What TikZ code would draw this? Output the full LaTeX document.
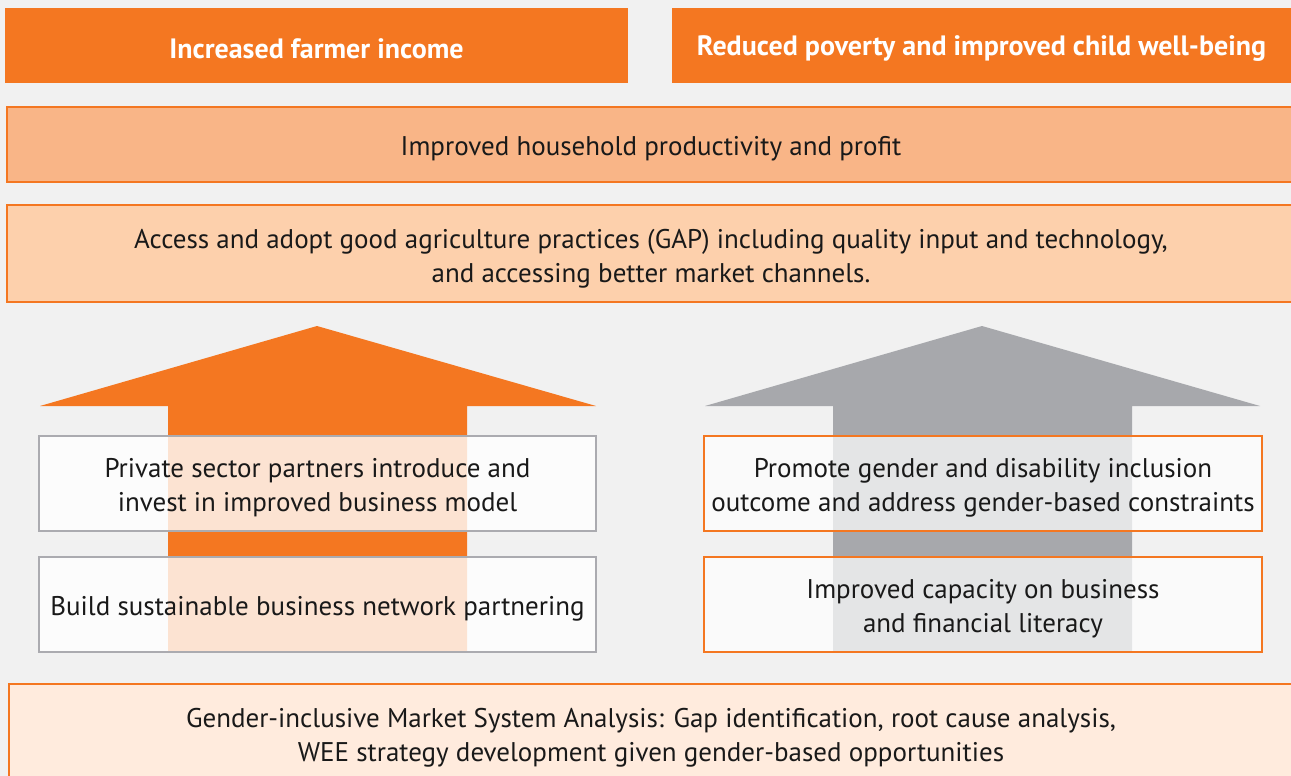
\documentclass[tikz,border=0pt]{standalone}
\usepackage{fontspec}
\setmainfont{PT Sans}
\definecolor{bg}{RGB}{241,241,241}
\definecolor{org}{RGB}{244,119,33}
\definecolor{orgmid}{RGB}{249,181,135}
\definecolor{orglt}{RGB}{253,208,172}
\definecolor{orgpale}{RGB}{255,235,221}
\definecolor{grayarrow}{RGB}{167,168,172}
\definecolor{grayedge}{RGB}{171,171,176}
\tikzset{
  txt/.style={font=\fontsize{27}{34}\selectfont, align=center, inner sep=0pt, text=black!90, text opacity=1, fill opacity=1},
  boldtxt/.style={font=\fontsize{28}{34}\selectfont\bfseries, align=center, inner sep=0pt, text=white},
  topbox/.style={fill=org, draw=none, inner sep=0pt},
  bandbox/.style={draw=org, line width=2pt, inner sep=0pt},
  leftbox/.style={draw=grayedge, line width=2pt, fill=white, fill opacity=0.8, inner sep=0pt, minimum width=557pt, minimum height=95pt},
  rightbox/.style={draw=org, line width=2pt, fill=white, fill opacity=0.7, inner sep=0pt, minimum width=558pt, minimum height=95pt},
}
\begin{document}
\begin{tikzpicture}[x=1pt,y=-1pt]
\fill[bg] (0,0) rectangle (1291,776);
\useasboundingbox (0,0) rectangle (1291,776);
% top boxes
\node[topbox, minimum width=623pt, minimum height=75pt,
  label={[boldtxt, yshift=-3pt]center:Increased farmer income}] (income) at (316.5,45.5) {};
\node[topbox, minimum width=619pt, minimum height=75pt,
  label={[boldtxt, yshift=-3pt]center:Reduced poverty and improved child well-being}] (poverty) at (981.5,45.5) {};
% bands
\node[bandbox, fill=orgmid, minimum width=1288pt, minimum height=75pt,
  label={[txt, yshift=-4pt]center:Improved household productivity and profit}] (prod) at (651,144.5) {};
\node[bandbox, fill=orglt, minimum width=1288pt, minimum height=97pt,
  label={[txt, yshift=-5pt]center:{Access and adopt good agriculture practices (GAP) including quality input and technology,\\and accessing better market channels.}}] (gap) at (651,253.5) {};
% arrows
\fill[org] (168,652) -- (168,406) -- (40,406) -- (317,326) -- (596,406) -- (467,406) -- (467,652) -- cycle;
\fill[grayarrow] (833,652) -- (833,406) -- (705,406) -- (982,326) -- (1260,406) -- (1132,406) -- (1132,652) -- cycle;
% left boxes
\node[leftbox, label={[txt, yshift=-4pt]center:{Private sector partners introduce and\\invest in improved business model}}] (private) at (317.5,483.5) {};
\node[leftbox, label={[txt, yshift=-4pt]center:Build sustainable business network partnering}] (network) at (317.5,604.5) {};
% right boxes
\node[rightbox, label={[txt, yshift=-4pt]center:{Promote gender and disability inclusion\\outcome and address gender-based constraints}}] (gender) at (983,483.5) {};
\node[rightbox, label={[txt, yshift=-4pt]center:{Improved capacity on business\\and financial literacy}}] (capacity) at (983,604.5) {};
% bottom
\node[bandbox, fill=orgpale, minimum width=1284pt, minimum height=102pt,
  label={[txt, yshift=-3pt]center:{Gender-inclusive Market System Analysis: Gap identification, root cause analysis,\\WEE strategy development given gender-based opportunities}}] (analysis) at (651,735) {};
\end{tikzpicture}
\end{document}
